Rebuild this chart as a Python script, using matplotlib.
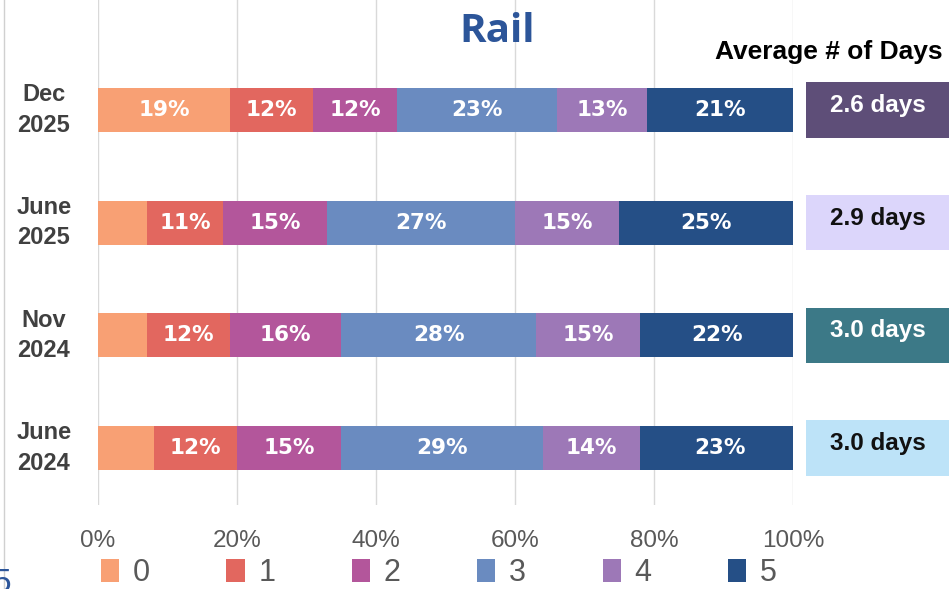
import matplotlib.pyplot as plt
from matplotlib.patches import Rectangle
from matplotlib.lines import Line2D
import matplotlib.transforms as mtransforms

periods = ['Dec\n2025', 'June\n2025', 'Nov\n2024', 'June\n2024']
days_cats = ['0', '1', '2', '3', '4', '5']
# share of respondents per number of days (percent), one list per category
d0 = [19, 7, 7, 8]
d1 = [12, 11, 12, 12]
d2 = [12, 15, 16, 15]
d3 = [23, 27, 28, 29]
d4 = [13, 15, 15, 14]
d5 = [21, 25, 22, 23]
avg_days = ['2.6 days', '2.9 days', '3.0 days', '3.0 days']
ticks = [0, 20, 40, 60, 80, 100]

seg_colors = ['#F8A074', '#E2675F', '#B3569B', '#6A8BC0', '#9D78B7', '#254F86']
box_colors = ['#5E4E78', '#DCD6FB', '#3C7987', '#BDE3F8']
box_text = ['white', '#111111', 'white', '#111111']

fig = plt.figure(figsize=(9.5, 5.89), dpi=100)
ax = fig.add_axes([98 / 950, 1 - 505 / 589, 695 / 950, 505 / 589])

series = [d0, d1, d2, d3, d4, d5]
ypos = list(range(len(periods)))
left = [0] * len(periods)
for i, vals in enumerate(series):
    ax.barh(ypos, vals, left=left, height=0.39, color=seg_colors[i],
            label=days_cats[i], zorder=3)
    for j, v in enumerate(vals):
        if v >= 10:
            ax.text(left[j] + v / 2, j, f'{v}%', ha='center', va='center',
                    color='white', fontsize=15.5, fontweight='bold',
                    family='DejaVu Sans', zorder=4)
    left = [a + b for a, b in zip(left, vals)]

ax.set_xlim(0, 100)
ax.set_ylim(3.505, -0.976)
ax.set_xticks(ticks)
ax.set_xticklabels([f'{t}%' for t in ticks], color='#595959', fontsize=17.5,
                   family='Liberation Sans')
ax.tick_params(axis='x', length=0, pad=18)
ax.set_yticks([])
ax.grid(axis='x', color='#D9D9D9', lw=1, zorder=0)
for s in ax.spines.values():
    s.set_visible(False)

trans = mtransforms.blended_transform_factory(ax.transAxes, ax.transData)
for j, lab in enumerate(periods):
    ax.text(-0.078, j, lab, transform=trans, ha='center', va='center',
            multialignment='center', fontsize=17, fontweight='bold',
            color='#404040', family='Liberation Sans', linespacing=1.4)

# average days boxes on the right
for j, txt in enumerate(avg_days):
    ax.add_patch(Rectangle((1.018, j - 0.245), 0.207, 0.49, transform=trans,
                           facecolor=box_colors[j], edgecolor='none',
                           clip_on=False, zorder=3))
    ax.text(1.1215, j - 0.04, txt, transform=trans, ha='center', va='center',
            fontsize=17.5, fontweight='bold', color=box_text[j],
            family='Liberation Sans', zorder=4)

fig.text(829 / 950, 1 - 52 / 589, 'Average # of Days', ha='center', va='center',
         fontsize=19, fontweight='bold', color='black', family='Liberation Sans')
fig.text(497 / 950, 1 - 31 / 589, 'Rail', ha='center', va='center',
         fontsize=29, fontweight='bold', color='#2C5599', family='Open Sans')

leg = fig.legend(loc='center', bbox_to_anchor=(0.462, 0.027), ncol=6,
                 frameon=False, handlelength=0.6, handleheight=0.8,
                 handletextpad=0.45, columnspacing=2.5, borderpad=0,
                 prop={'family': 'Liberation Sans', 'size': 22})
for t in leg.get_texts():
    t.set_color('#595959')

fig.add_artist(Line2D([4 / 950, 4 / 950], [0, 1], transform=fig.transFigure,
                      color='#D0D0D0', lw=1))
fig.text(-0.008, -0.005, '5', color='#2C5599', fontsize=24, family='Liberation Sans')

fig.savefig('out.png', dpi=100)
